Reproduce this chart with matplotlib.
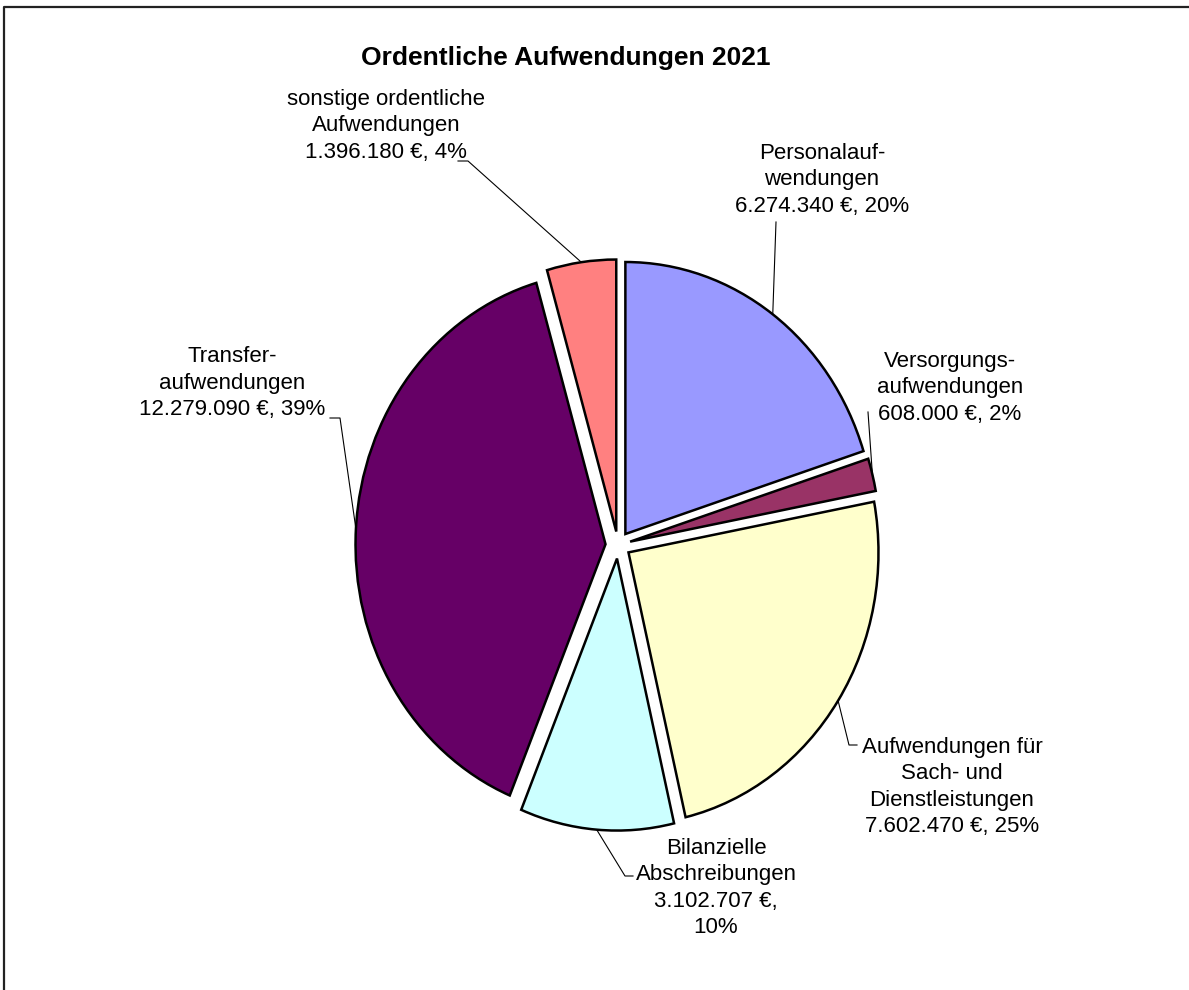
import numpy as np
import matplotlib.pyplot as plt
from matplotlib.lines import Line2D

plt.rcParams['font.family'] = ['Liberation Sans', 'DejaVu Sans']

# Ordentliche Aufwendungen 2021 (clockwise from 12 o'clock)
categories = ['Personalauf-\nwendungen', 'Versorgungs-\naufwendungen',
              'Aufwendungen für\nSach- und\nDienstleistungen',
              'Bilanzielle\nAbschreibungen', 'Transfer-\naufwendungen',
              'sonstige ordentliche\nAufwendungen']
values = [6274340, 608000, 7602470, 3102707, 12279090, 1396180]
pct_labels = [20, 2, 25, 10, 39, 4]
colors = ['#9999FF', '#993366', '#FFFFCC', '#CCFFFF', '#660066', '#FF8080']

# layout in pixels of the 1189x990 canvas
W, H = 1189, 990
cx, cy, sx, sy = 618, 545, 250, 272
label_pos = [(822, 180), (950, 388), (952, 787), (716, 888), (232, 383), (386, 126)]
# leader: bend point, end point (px)
leader = [((776, 222), (776, 222)), ((868, 412), (868, 412)),
          ((849, 745), (857, 745)), ((625, 876), (633, 876)),
          ((340, 418), (330, 418)), ((468, 161), (458, 161))]
value_sep = [' ', ' ', ' ', '\n', ' ', ' ']


def to_data(p):
    return ((p[0] - cx) / sx, (cy - p[1]) / sy)


fig = plt.figure(figsize=(W / 100, H / 100), dpi=100)
ax = fig.add_axes([0, 0, 1, 1])
wedges, _ = ax.pie(values, colors=colors, startangle=90, counterclock=False,
                   explode=[0.05] * len(values),
                   wedgeprops=dict(edgecolor='black', linewidth=1.8))
ax.set_aspect('auto')
ax.set_xlim(-cx / sx, (W - cx) / sx)
ax.set_ylim(-(H - cy) / sy, cy / sy)
ax.axis('off')

for i, w in enumerate(wedges):
    mid = np.deg2rad((w.theta1 + w.theta2) / 2)
    anchor = (w.center[0] + w.r * np.cos(mid), w.center[1] + w.r * np.sin(mid))
    bend = to_data(leader[i][0])
    end = to_data(leader[i][1])
    ax.plot([anchor[0], bend[0], end[0]], [anchor[1], bend[1], end[1]],
            color='black', lw=0.8, clip_on=False)
    val = f'{values[i]:,}'.replace(',', '.')
    txt = f'{categories[i]}\n{val} €,{value_sep[i]}{pct_labels[i]}%'
    tx, ty = to_data(label_pos[i])
    ax.text(tx, ty, txt, ha='center', va='center', fontsize=16,
            linespacing=1.35, multialignment='center')

fig.text(566 / W, 1 - 58 / H, 'Ordentliche Aufwendungen 2021', ha='center',
         va='center', fontsize=19, fontweight='bold')

# chart frame (top and left edges visible)
fig.add_artist(Line2D([4 / W, 4 / W, 1], [0, 1 - 7 / H, 1 - 7 / H],
                      transform=fig.transFigure, color='#222222', lw=1.6))

fig.savefig('out.png', dpi=100)
